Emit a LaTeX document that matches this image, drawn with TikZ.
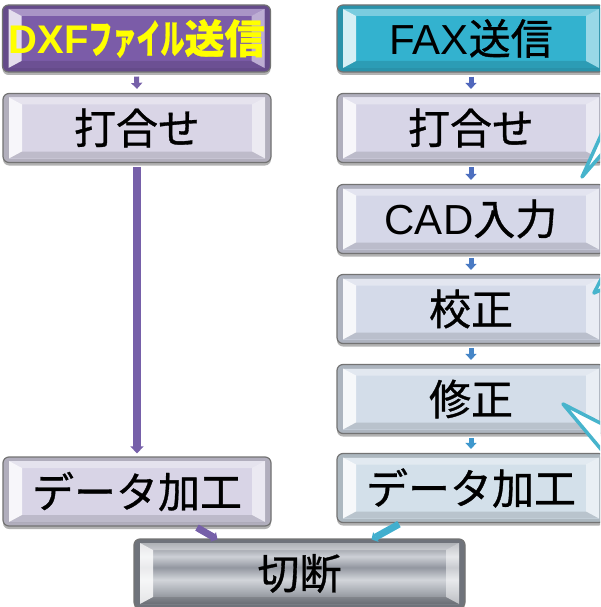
\documentclass[tikz,border=0pt]{standalone}
\usepackage{fontspec}
\usepackage{graphicx}
\newfontfamily\jp[FakeBold=0.8]{Noto Sans CJK JP}
\newfontfamily\lat{Liberation Sans}
\usetikzlibrary{arrows.meta,shadows,calc}

\definecolor{purp}{HTML}{7B5CA8}
\definecolor{cyanb}{HTML}{33B2CF}
\definecolor{lavA}{HTML}{D9D5E6}
\definecolor{lavB}{HTML}{D8D4E6}
\definecolor{rA}{HTML}{D7D5E7}
\definecolor{rB}{HTML}{D5D7E8}
\definecolor{rC}{HTML}{D4DAE9}
\definecolor{rD}{HTML}{D3DDE9}
\definecolor{rE}{HTML}{D3E0EA}
\definecolor{metalA}{HTML}{7A7E86}
\definecolor{metalB}{HTML}{A7ABB2}
\definecolor{metalC}{HTML}{D2D5DA}
\definecolor{metalD}{HTML}{9397A0}
\definecolor{metalE}{HTML}{CDD0D6}
\definecolor{metalF}{HTML}{858991}
\definecolor{metalRing}{HTML}{6F737B}
\definecolor{aPurp}{HTML}{7660A9}
\definecolor{aB1}{HTML}{5067BC}
\definecolor{aB2}{HTML}{4D6FBF}
\definecolor{aB3}{HTML}{4A7AC3}
\definecolor{aB4}{HTML}{4686C7}
\definecolor{aB5}{HTML}{3F98CD}
\definecolor{aCy}{HTML}{41AFCE}
\definecolor{callout}{HTML}{47B4CC}
\definecolor{dxftext}{HTML}{FFFF00}

\pgfdeclareverticalshading{metal}{100bp}{color(0bp)=(metalA); color(25bp)=(metalA); color(35bp)=(metalB); color(45bp)=(metalC); color(55bp)=(metalD); color(64bp)=(metalE); color(75bp)=(metalF); color(100bp)=(metalF)}

\tikzset{
  bevels/.style={path picture={
    \coordinate (A) at ([xshift=6pt,yshift=-4pt]path picture bounding box.north west);
    \coordinate (B) at ([xshift=-6pt,yshift=-4pt]path picture bounding box.north east);
    \coordinate (C) at ([xshift=-6pt,yshift=4pt]path picture bounding box.south east);
    \coordinate (D) at ([xshift=6pt,yshift=4pt]path picture bounding box.south west);
    \coordinate (a) at ([xshift=19pt,yshift=-11pt]path picture bounding box.north west);
    \coordinate (b) at ([xshift=-19pt,yshift=-11pt]path picture bounding box.north east);
    \coordinate (c) at ([xshift=-19pt,yshift=11pt]path picture bounding box.south east);
    \coordinate (d) at ([xshift=19pt,yshift=11pt]path picture bounding box.south west);
    \fill[sharp corners,#1] (A) -- (B) -- (C) -- (D) -- cycle;
    \fill[sharp corners,white,opacity=.35] (A) -- (B) -- (b) -- (a) -- cycle;
    \fill[sharp corners,white,opacity=.8] (A) -- (a) -- (d) -- (D) -- cycle;
    \fill[sharp corners,white,opacity=.5] (B) -- (b) -- (c) -- (C) -- cycle;
    \fill[sharp corners,black,opacity=.12] (D) -- (d) -- (c) -- (C) -- cycle;
  }},
  fbox/.style={rectangle, rounded corners=6pt, draw=black!55, line width=1.2pt,
    minimum width=268pt, minimum height=69pt, inner sep=0pt,
    font=\jp\fontsize{42}{48}\selectfont, text=black,
    drop shadow={shadow xshift=0pt, shadow yshift=-3pt, opacity=.3, fill=black},
    fill=#1!82!black, bevels=#1},
  cutbox/.style={rectangle, rounded corners=6pt, draw=black!55, line width=1.2pt,
    minimum width=331pt, minimum height=69pt, inner sep=0pt,
    font=\jp\fontsize{42}{48}\selectfont, text=black,
    drop shadow={shadow xshift=0pt, shadow yshift=-3pt, opacity=.3, fill=black},
    fill=metalRing, bevels={shading=metal}},
  sarr/.style={draw=#1, line width=5pt, -{Triangle[length=6pt 0, width=11pt 0]}},
  larr/.style={draw=#1, line width=8pt, -{Triangle[length=7pt 0, width=13pt 0]}},
  darr/.style={draw=#1, line width=7pt, -{Triangle[length=5pt 0, width=11pt 0]}},
  wedge/.style={fill=white, draw=callout, line width=3.5pt, line join=round},
}

\begin{document}
\begin{tikzpicture}[x=1pt,y=-1pt]
\useasboundingbox (0,0) rectangle (600,607);
\clip (0,0) rectangle (600,607);

% left column
\node[fbox=purp, minimum height=67pt, text=dxftext, font=\jp\bfseries\fontsize{40}{46}\selectfont] (dxf) at (136.5,38.5) {{\lat\bfseries DXF}\scalebox{0.6}[1]{ファイル}送信};
\node[fbox=lavA] (uc1) at (137,128) {打合せ};
\node[fbox=lavB] (dk1) at (137,491.5) {データ加工};

% right column
\node[fbox=cyanb, minimum height=67pt] (fax) at (471,38.5) {{\lat FAX}送信};
\node[fbox=rA] (uc2) at (471,128) {打合せ};
\node[fbox=rB] (cad) at (471,219) {{\lat CAD}入力};
\node[fbox=rC] (kou) at (471,309) {校正};
\node[fbox=rD] (shu) at (471,399) {修正};
\node[fbox=rE] (dk2) at (471,488) {データ加工};

% bottom
\node[cutbox] (cut) at (299.5,573.5) {切断};

% arrows
\draw[sarr=aPurp] ([yshift=-4pt]dxf.south) -- ([yshift=4pt]uc1.north);
\draw[larr=aPurp] ([yshift=-4pt]uc1.south) -- ([yshift=3pt]dk1.north);
\draw[sarr=aB1] ([yshift=-4pt]fax.south) -- ([yshift=4pt]uc2.north);
\draw[sarr=aB2] ([yshift=-4pt]uc2.south) -- ([yshift=4pt]cad.north);
\draw[sarr=aB3] ([yshift=-4pt]cad.south) -- ([yshift=4pt]kou.north);
\draw[sarr=aB4] ([yshift=-4pt]kou.south) -- ([yshift=4pt]shu.north);
\draw[sarr=aB5] ([yshift=-4pt]shu.south) -- ([yshift=4pt]dk2.north);
\draw[darr=aPurp] ([xshift=60pt,yshift=-1pt]dk1.south) -- ([xshift=-82pt,yshift=-1pt]cut.north);
\draw[darr=aCy] ([xshift=-72pt,yshift=-1pt]dk2.south) -- ([xshift=72pt,yshift=-1pt]cut.north);

% callout pointers (callouts lie outside the picture)
\draw[wedge] (582,177) -- (607,122) -- (607,148) -- cycle;
\draw[wedge] (594,293) -- (610,262) -- (610,286) -- cycle;
\draw[wedge] (563,404) -- (610,428) -- (610,460) -- cycle;
\end{tikzpicture}
\end{document}
